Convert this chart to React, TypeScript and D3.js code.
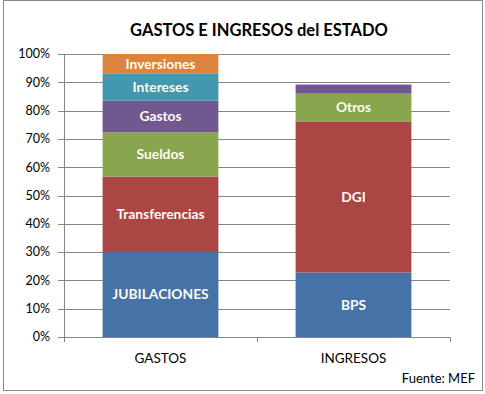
import React from 'react';
import * as d3 from 'd3';

const categories = ['GASTOS', 'INGRESOS'];
const seriesColors = ['#4572a7', '#aa4643', '#89a54e', '#71588f', '#4198af', '#db843d'];
const gastosValues = [30.0, 26.7, 15.6, 11.2, 9.5, 7.0];
const ingresosValues = [22.8, 53.4, 9.8, 3.2, 0, 0];
const gastosLabels = ['JUBILACIONES', 'Transferencias', 'Sueldos', 'Gastos', 'Intereses', 'Inversiones'];
const ingresosLabels = ['BPS', 'DGI', 'Otros', '', '', ''];
const yTicks = [0, 10, 20, 30, 40, 50, 60, 70, 80, 90, 100];

const W = 485;
const H = 394;
const margin = { top: 54, right: 35, bottom: 57, left: 64 };
const font = 'Lato, "Open Sans", sans-serif';

const App = () => {
  const x = d3.scaleBand<string>()
    .domain(categories)
    .range([margin.left, W - margin.right])
    .paddingInner(0.4)
    .paddingOuter(0.2);

  const y = d3.scaleLinear()
    .domain([0, 100])
    .range([H - margin.bottom, margin.top]);

  // build stacked segments per category
  const columns = [
    { cat: categories[0], values: gastosValues, labels: gastosLabels },
    { cat: categories[1], values: ingresosValues, labels: ingresosLabels },
  ];
  const segments = columns.flatMap(col => {
    const cum = d3.cumsum(col.values);
    return col.values.map((v, i) => ({
      cat: col.cat,
      y0: cum[i] - v,
      y1: cum[i],
      value: v,
      label: col.labels[i],
      color: seriesColors[i],
    }));
  }).filter(d => d.value > 0);

  const step = x.step();
  const bottomTicks = [margin.left, margin.left + step, margin.left + 2 * step];

  return (
    <svg width={W} height={H} style={{ position: 'absolute', left: 0, top: 0 }} fontFamily={font}>
      <rect x={0} y={0} width={W} height={H} fill="#fff" />
      <rect x={3.5} y={0.5} width={479} height={390} fill="#fff" stroke="#8a8a8a" />

      <text x={259} y={36} textAnchor="middle" fontSize={16.5} fontWeight="bold" fill="#000">
        GASTOS E INGRESOS del ESTADO
      </text>

      {/* gridlines and y ticks */}
      {yTicks.map(t => (
        <g key={t}>
          <line x1={margin.left - 6} x2={W - margin.right} y1={Math.round(y(t)) + 0.5} y2={Math.round(y(t)) + 0.5} stroke="#868686" />
          <text x={50} y={y(t)} dy="0.35em" textAnchor="end" fontSize={12.5} fill="#000">{t}%</text>
        </g>
      ))}

      {/* bars */}
      {segments.map((d, i) => (
        <rect
          key={i}
          x={x(d.cat)}
          width={x.bandwidth()}
          y={y(d.y1)}
          height={y(d.y0) - y(d.y1)}
          fill={d.color}
        />
      ))}
      {segments.filter(d => d.label).map((d, i) => (
        <text
          key={'l' + i}
          x={(x(d.cat) || 0) + x.bandwidth() / 2}
          y={(y(d.y0) + y(d.y1)) / 2}
          dy="0.35em"
          textAnchor="middle"
          fontSize={13.8}
          fontWeight="bold"
          fill="#fcfcf0"
        >
          {d.label}
        </text>
      ))}

      {/* axes */}
      <line x1={margin.left + 0.5} x2={margin.left + 0.5} y1={y(100)} y2={y(0) + 5} stroke="#868686" />
      <line x1={margin.left} x2={W - margin.right} y1={Math.round(y(0)) + 0.5} y2={Math.round(y(0)) + 0.5} stroke="#868686" />
      {bottomTicks.map((t, i) => (
        <line key={i} x1={Math.round(t) + 0.5} x2={Math.round(t) + 0.5} y1={y(0)} y2={y(0) + 5} stroke="#868686" />
      ))}
      {categories.map(c => (
        <text key={c} x={(x(c) || 0) + x.bandwidth() / 2} y={363} textAnchor="middle" fontSize={13.5} fill="#000">{c}</text>
      ))}

      <text x={475} y={383} textAnchor="end" fontSize={13} fill="#000">Fuente: MEF</text>
    </svg>
  );
};

export default App;
